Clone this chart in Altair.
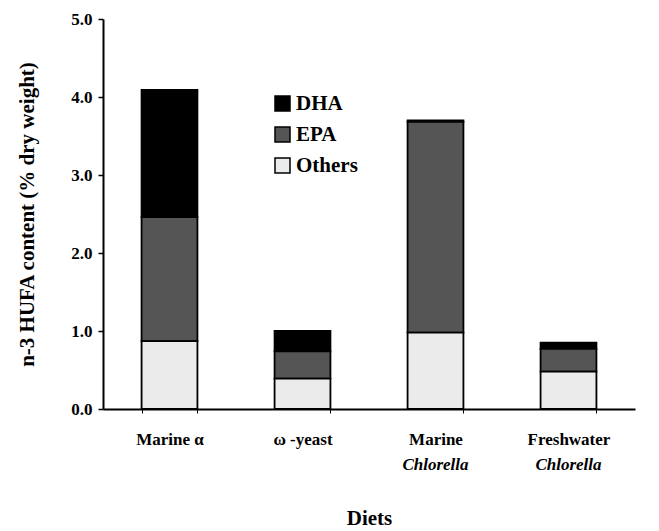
import altair as alt
import pandas as pd

diets = ["Marine  α", "ω -yeast", "Marine", "Freshwater"]
diets_line2 = ["", "", "Chlorella", "Chlorella"]
components = ["DHA", "EPA", "Others"]
stack_rank = [3, 2, 1]
others = [0.87, 0.39, 0.98, 0.48]
epa = [1.59, 0.35, 2.70, 0.29]
dha = [1.63, 0.26, 0.02, 0.08]

rows = []
for i, d in enumerate(diets):
    for comp, rank, vals in zip(components, stack_rank, [dha, epa, others]):
        rows.append({"diet": d, "component": comp, "rank": rank, "value": vals[i]})
df = pd.DataFrame(rows)
lab = pd.DataFrame({"diet": diets, "line2": diets_line2})

FONT = "Liberation Serif"
W, H = 532, 390

xenc = alt.X(
    "diet:N", sort=diets, title="Diets",
    scale=alt.Scale(paddingInner=0.58, paddingOuter=0.29),
    axis=alt.Axis(labelAngle=0, labelFont=FONT, labelFontSize=17, labelFontWeight="bold",
                  labelColor="black", labelPadding=18, tickBand="extent", tickSize=4,
                  tickColor="black", domainColor="black", domainWidth=2,
                  titleFont=FONT, titleFontSize=21, titleFontWeight="bold",
                  titleColor="black", titlePadding=60),
)

bars = alt.Chart(df).mark_bar(stroke="black", strokeWidth=1.8).encode(
    x=xenc,
    y=alt.Y("value:Q", stack="zero", title="n-3 HUFA content (% dry weight)",
            scale=alt.Scale(domain=[0, 5]),
            axis=alt.Axis(values=[0, 1, 2, 3, 4, 5], format=".1f", grid=False,
                          labelFont=FONT, labelFontSize=17, labelFontWeight="bold",
                          labelColor="black", labelPadding=6, tickSize=5,
                          tickColor="black", tickWidth=1.5, domainColor="black",
                          domainWidth=2, titleFont=FONT, titleFontSize=21,
                          titleFontWeight="bold", titleColor="black", titlePadding=33)),
    color=alt.Color("component:N", sort=components,
                    scale=alt.Scale(domain=components, range=["#000000", "#555555", "#ebebeb"]),
                    legend=alt.Legend(title=None, orient="none", legendX=169, legendY=74,
                                      symbolType="square", symbolSize=225,
                                      symbolStrokeColor="black", symbolStrokeWidth=1.5,
                                      labelFont=FONT, labelFontSize=21, labelFontWeight="bold",
                                      labelColor="black", rowPadding=9, labelOffset=3)),
    order=alt.Order("rank:Q"),
)

line2 = alt.Chart(lab).mark_text(font=FONT, fontSize=17, fontWeight="bold",
                                 fontStyle="italic", baseline="middle", color="black").encode(
    x=alt.X("diet:N", sort=diets),
    y=alt.value(H + 56),
    text="line2:N",
)

chart = alt.layer(bars, line2).properties(
    width=W, height=H,
    padding={"left": 8, "top": 2, "right": 5, "bottom": 0},
).configure_view(stroke=None)

chart.save("out.html", embed_options={"renderer": "svg", "actions": False})
